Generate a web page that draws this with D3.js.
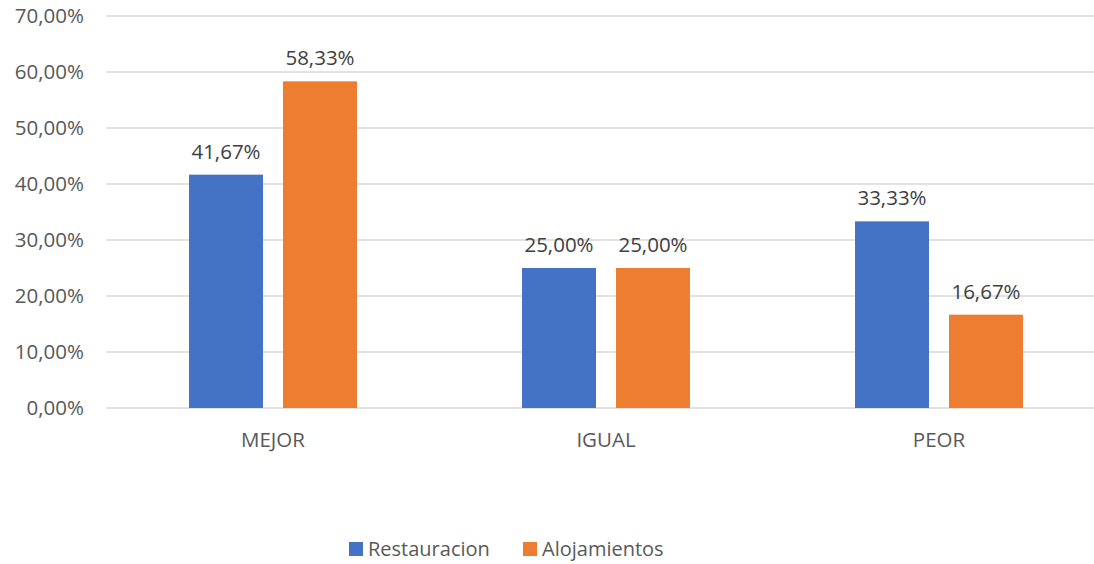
<!DOCTYPE html>
<html>
<head>
<meta charset="utf-8">
<script src="https://cdn.jsdelivr.net/npm/d3@7/dist/d3.min.js"></script>
<style>
  body { margin: 0; background: #fff; }
  svg text { font-family: 'Open Sans', sans-serif; }
</style>
</head>
<body>
<div id="chart"></div>
<script>
(() => {
'use strict';

const categories = ['MEJOR', 'IGUAL', 'PEOR'];
const seriesNames = ['Restauracion', 'Alojamientos'];
const restauracion = [41.67, 25.00, 33.33];
const alojamientos = [58.33, 25.00, 16.67];
const yTicks = [0, 10, 20, 30, 40, 50, 60, 70];

const WIDTH = 1094;
const HEIGHT = 564;
const colors = ['#4472C4', '#ED7D31'];

const fmt = (v) => v.toFixed(2).replace('.', ',') + '%';

const svg = d3.select('#chart')
  .append('svg')
  .attr('width', WIDTH)
  .attr('height', HEIGHT);

const x = d3.scaleBand()
  .domain(categories)
  .range([106.5, 1105.5]);

const x1 = d3.scaleBand()
  .domain(seriesNames)
  .range([0, x.bandwidth()])
  .paddingInner(0.213)
  .paddingOuter(0.878);

const y = d3.scaleLinear()
  .domain([0, 70])
  .range([408, 16]);

// gridlines
svg.append('g')
  .selectAll('line')
  .data(yTicks)
  .enter()
  .append('line')
    .attr('x1', 107)
    .attr('x2', WIDTH)
    .attr('y1', (d) => y(d))
    .attr('y2', (d) => y(d))
    .attr('stroke', '#d9d9d9')
    .attr('stroke-width', 1.3);

// y axis labels
const yAxis = d3.axisLeft(y).tickValues(yTicks).tickFormat(fmt).tickSize(0).tickPadding(0);
const yg = svg.append('g')
  .attr('transform', 'translate(84,0)')
  .call(yAxis);
yg.select('.domain').remove();
yg.selectAll('text')
  .attr('fill', '#595959')
  .style('font-size', '20.5px');

// x axis labels
const xAxis = d3.axisBottom(x).tickSize(0).tickPadding(0);
const xg = svg.append('g')
  .attr('transform', 'translate(0,432.5)')
  .call(xAxis);
xg.select('.domain').remove();
xg.selectAll('text')
  .attr('fill', '#595959')
  .style('font-size', '20.5px');

const rows = categories.map((c, i) => ({
  cat: c,
  values: [
    { name: seriesNames[0], v: restauracion[i], color: colors[0] },
    { name: seriesNames[1], v: alojamientos[i], color: colors[1] }
  ]
}));

const groups = svg.selectAll('.cat')
  .data(rows)
  .enter()
  .append('g')
    .attr('class', 'cat')
    .attr('transform', (d) => `translate(${x(d.cat)},0)`);

groups.selectAll('rect')
  .data((d) => d.values)
  .enter()
  .append('rect')
    .attr('x', (d) => x1(d.name))
    .attr('width', x1.bandwidth())
    .attr('y', (d) => y(d.v))
    .attr('height', (d) => y(0) - y(d.v))
    .attr('fill', (d) => d.color);

groups.selectAll('.lbl')
  .data((d) => d.values)
  .enter()
  .append('text')
    .attr('class', 'lbl')
    .attr('x', (d) => x1(d.name) + x1.bandwidth() / 2)
    .attr('y', (d) => y(d.v) - 16)
    .attr('text-anchor', 'middle')
    .attr('fill', '#404040')
    .style('font-size', '20.5px')
    .text((d) => fmt(d.v));

// legend
const legendX = [349, 523];
const legend = svg.selectAll('.legend')
  .data(seriesNames)
  .enter()
  .append('g')
    .attr('class', 'legend')
    .attr('transform', (d, i) => `translate(${legendX[i]},542)`);

legend.append('rect')
  .attr('width', 14)
  .attr('height', 14)
  .attr('fill', (d, i) => colors[i]);

legend.append('text')
  .attr('x', 19)
  .attr('y', 14)
  .attr('fill', '#595959')
  .style('font-size', '20px')
  .text((d) => d);

})();
</script>
</body>
</html>
